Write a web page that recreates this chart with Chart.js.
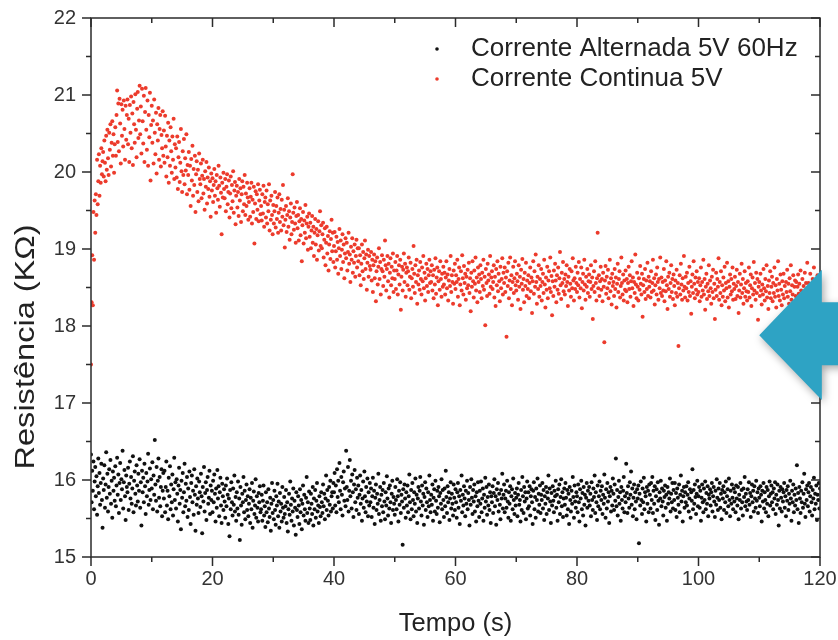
<!DOCTYPE html>
<html>
<head>
<meta charset="utf-8">
<script src="https://cdn.jsdelivr.net/npm/chart.js@4.4.1/dist/chart.umd.min.js"></script>
<style>
  html, body { margin: 0; padding: 0; background: #fff; }
  canvas { display: block; }
</style>
</head>
<body>
<canvas id="grafico" width="838" height="640"></canvas>
<script>
// Intervalo de aquisicao (s) entre amostras
const intervalo = 0.1;

// Ticks principais dos eixos
const ticksTempo = [0, 20, 40, 60, 80, 100, 120];
const ticksResist = [15, 16, 17, 18, 19, 20, 21, 22];

const legendas = ['Corrente Alternada 5V 60Hz', 'Corrente Continua 5V'];

// Resistencia (kOhm) - corrente alternada 5V 60Hz, uma linha = 2 s
const resistenciaAC = [
  16.33, 15.71, 16.12, 15.86, 16.24, 15.62, 15.98, 16.17, 15.79, 16.05, 15.55, 15.92, 16.28, 15.83, 16.09, 15.68, 15.96, 16.21, 15.74, 15.38,
  16.02, 15.87, 16.19, 15.64, 15.94, 16.36, 15.77, 16.08, 15.59, 15.91, 16.14, 15.82, 16.26, 15.69, 15.99, 15.51, 16.11, 15.86, 16.03, 15.73,
  16.18, 15.66, 15.93, 16.29, 15.81, 16.07, 15.57, 15.96, 16.22, 15.74, 16.01, 15.88, 16.38, 15.63, 15.97, 16.13, 15.79, 15.48, 16.06, 15.91,
  15.84, 16.16, 15.61, 15.95, 16.24, 15.76, 16.04, 15.69, 15.89, 16.31, 15.58, 15.99, 16.11, 15.82, 15.67, 16.19, 15.93, 15.72, 16.08, 15.86,
  16.27, 15.64, 15.97, 15.41, 16.12, 15.84, 16.03, 15.71, 16.21, 15.92, 15.56, 16.09, 15.79, 15.98, 16.34, 15.68, 15.87, 16.15, 15.74, 16.01,
  15.89, 16.23, 15.62, 16.06, 15.81, 16.52, 15.94, 15.73, 16.17, 15.59, 15.99, 16.28, 15.77, 16.04, 15.66, 15.91, 16.14, 15.53, 15.86, 16.09,
  15.76, 16.12, 15.58, 15.91, 16.24, 15.67, 15.86, 15.49, 16.03, 15.79, 16.18, 15.62, 15.94, 15.71, 16.07, 15.54, 15.88, 16.29, 15.74, 15.97,
  15.63, 16.01, 15.82, 15.46, 15.93, 16.16, 15.69, 15.87, 15.36, 15.99, 15.77, 16.09, 15.58, 15.84, 16.21, 15.66, 15.95, 15.73, 16.04, 15.52,
  15.89, 15.61, 16.11, 15.78, 15.43, 15.96, 16.06, 15.71, 15.86, 15.55, 16.14, 15.81, 15.34, 15.92, 15.68, 16.02, 15.76, 15.57, 15.98, 15.84,
  15.65, 16.08, 15.79, 15.31, 15.91, 15.72, 16.17, 15.59, 15.83, 15.97, 15.48, 15.87, 16.04, 15.69, 15.77, 16.12, 15.56, 15.93, 15.74, 15.86,
  15.58, 15.99, 15.71, 16.07, 15.82, 15.46, 15.89, 15.64, 16.13, 15.76, 15.92, 15.53, 15.84, 16.03, 15.67, 15.44, 15.95, 15.79, 15.61, 15.88,
  15.72, 15.51, 15.93, 15.66, 16.02, 15.81, 15.43, 15.76, 15.27, 15.87, 15.62, 15.97, 15.71, 15.54, 15.89, 15.68, 16.06, 15.59, 15.78, 15.47,
  15.84, 15.63, 15.98, 15.55, 15.76, 15.22, 15.91, 15.67, 15.42, 15.82, 15.71, 16.04, 15.58, 15.86, 15.49, 15.74, 15.94, 15.61, 15.79, 15.53,
  15.69, 15.88, 15.44, 15.77, 15.62, 15.96, 15.38, 15.73, 15.85, 15.56, 15.67, 16.01, 15.51, 15.79, 15.64, 15.46, 15.83, 15.71, 15.92, 15.58,
  15.62, 15.81, 15.47, 15.73, 15.93, 15.54, 15.66, 15.39, 15.84, 15.58, 15.71, 15.45, 15.88, 15.63, 15.52, 15.77, 15.34, 15.69, 15.96, 15.57,
  15.74, 15.49, 15.86, 15.61, 15.42, 15.79, 15.67, 15.95, 15.53, 15.72, 15.38, 15.83, 15.59, 15.69, 15.46, 15.91, 15.64, 15.51, 15.78, 15.56,
  15.66, 15.87, 15.44, 15.71, 15.33, 15.62, 15.82, 15.55, 15.98, 15.68, 15.47, 15.76, 15.59, 15.89, 15.41, 15.73, 15.64, 15.29, 15.84, 15.61,
  15.52, 15.79, 15.67, 15.43, 15.88, 15.58, 15.74, 15.36, 15.69, 15.93, 15.54, 15.81, 15.62, 15.47, 15.77, 16.04, 15.57, 15.71, 15.44, 15.85,
  15.63, 15.48, 15.82, 15.69, 15.56, 15.91, 15.41, 15.76, 15.62, 15.87, 15.51, 15.73, 15.96, 15.59, 15.67, 15.44, 15.79, 15.65, 15.53, 15.84,
  15.71, 15.57, 15.94, 15.66, 15.82, 15.49, 15.76, 16.06, 15.61, 15.87, 15.73, 15.54, 15.91, 15.68, 15.99, 15.59, 15.79, 15.84, 15.63, 15.96,
  15.84, 16.09, 15.67, 15.93, 15.58, 16.14, 15.78, 15.99, 15.71, 16.22, 15.86, 15.62, 16.04, 15.81, 15.54, 15.97, 16.11, 15.73, 15.89, 15.66,
  16.38, 15.91, 15.74, 16.17, 15.59, 15.86, 16.26, 15.79, 15.99, 15.63, 16.07, 15.84, 15.52, 15.94, 16.13, 15.71, 15.88, 15.61, 16.03, 15.77,
  15.93, 15.56, 15.81, 16.06, 15.69, 15.87, 15.47, 15.76, 15.98, 15.64, 16.11, 15.79, 15.58, 15.91, 15.72, 16.02, 15.53, 15.84, 15.67, 15.96,
  15.71, 15.89, 15.52, 15.79, 16.03, 15.64, 15.86, 15.43, 15.77, 15.94, 15.61, 15.82, 15.69, 16.08, 15.56, 15.74, 15.91, 15.47, 15.81, 15.66,
  15.87, 15.58, 15.96, 15.72, 15.49, 15.84, 15.67, 16.05, 15.76, 15.54, 15.89, 15.63, 15.93, 15.71, 15.44, 15.82, 15.99, 15.61, 15.78, 15.69,
  15.55, 15.91, 15.74, 15.62, 16.01, 15.79, 15.46, 15.86, 15.68, 15.97, 15.57, 15.81, 15.72, 15.16, 15.88, 15.64, 15.94, 15.76, 15.51, 15.84,
  15.67, 15.93, 15.58, 15.79, 16.07, 15.71, 15.49, 15.87, 15.62, 15.96, 15.74, 15.53, 15.84, 15.69, 16.02, 15.59, 15.81, 15.44, 15.76, 15.91,
  15.63, 15.86, 16.04, 15.72, 15.54, 15.93, 15.67, 15.82, 15.42, 15.78, 15.97, 15.61, 15.89, 15.71, 15.52, 15.84, 15.66, 16.06, 15.74, 15.58,
  15.81, 15.68, 15.94, 15.47, 15.77, 15.88, 15.59, 15.99, 15.73, 15.56, 15.86, 15.64, 15.91, 15.79, 15.45, 15.83, 15.69, 16.01, 15.62, 15.87,
  15.74, 15.52, 15.89, 15.66, 16.12, 15.78, 15.57, 15.92, 15.71, 15.84, 15.48, 15.76, 15.97, 15.63, 15.82, 15.69, 15.54, 15.94, 15.77, 15.61,
  15.88, 15.71, 15.51, 15.84, 15.96, 15.64, 15.79, 15.43, 15.87, 15.73, 16.06, 15.58, 15.81, 15.67, 15.92, 15.76, 15.53, 15.86, 15.69, 15.99,
  15.62, 15.83, 15.74, 15.41, 15.91, 15.68, 16.01, 15.77, 15.56, 15.87, 15.72, 15.94, 15.59, 15.79, 15.46, 15.84, 15.66, 15.97, 15.73, 15.52,
  15.86, 15.69, 15.98, 15.58, 15.76, 15.89, 15.47, 15.81, 15.64, 16.03, 15.72, 15.91, 15.55, 15.78, 15.67, 15.94, 15.61, 15.84, 15.44, 15.79,
  15.71, 15.92, 15.57, 15.83, 16.01, 15.66, 15.79, 15.42, 15.88, 15.74, 15.96, 15.59, 15.82, 15.68, 15.49, 15.87, 15.76, 16.08, 15.63, 15.81,
  15.94, 15.58, 15.76, 15.86, 15.64, 15.99, 15.72, 15.51, 15.84, 15.69, 15.92, 15.47, 15.79, 15.88, 15.62, 16.02, 15.74, 15.56, 15.83, 15.67,
  15.77, 15.89, 15.53, 15.81, 15.96, 15.68, 15.74, 15.46, 15.87, 15.61, 16.04, 15.79, 15.57, 15.91, 15.72, 15.84, 15.49, 15.76, 15.98, 15.63,
  15.84, 15.66, 15.92, 15.54, 15.79, 15.88, 15.71, 15.43, 15.86, 15.97, 15.62, 15.78, 15.51, 15.89, 15.74, 16.02, 15.59, 15.82, 15.68, 15.93,
  15.57, 15.81, 15.74, 15.96, 15.63, 15.87, 15.48, 15.79, 15.69, 15.91, 15.56, 15.84, 15.76, 16.06, 15.61, 15.89, 15.72, 15.44, 15.83, 15.67,
  15.92, 15.73, 15.58, 15.86, 15.79, 15.99, 15.64, 15.81, 15.47, 15.88, 15.71, 15.94, 15.56, 15.78, 16.01, 15.66, 15.84, 15.52, 15.76, 15.89,
  15.68, 15.96, 15.77, 15.54, 15.87, 15.62, 15.82, 15.43, 15.91, 15.74, 15.59, 15.86, 15.69, 16.04, 15.78, 15.51, 15.93, 15.72, 15.64, 15.84,
  15.79, 15.58, 15.94, 15.71, 15.46, 15.88, 15.76, 15.99, 15.62, 15.83, 15.54, 15.91, 15.68, 15.81, 15.41, 15.77, 15.96, 15.64, 15.86, 15.73,
  15.91, 15.67, 15.82, 15.53, 15.97, 15.74, 15.61, 15.89, 15.78, 16.06, 15.57, 15.84, 15.71, 15.48, 15.93, 15.66, 15.79, 15.98, 15.62, 15.86,
  15.74, 15.92, 15.56, 15.81, 15.69, 16.07, 15.77, 15.51, 15.88, 15.63, 15.96, 15.72, 15.84, 15.44, 15.79, 15.91, 15.59, 15.86, 15.67, 16.02,
  15.82, 15.61, 15.94, 15.73, 16.28, 15.66, 15.87, 15.54, 15.78, 15.99, 15.69, 15.84, 15.47, 15.91, 15.74, 15.63, 15.86, 16.04, 15.58, 15.79,
  15.71, 16.21, 15.83, 15.57, 15.92, 15.76, 15.64, 15.97, 15.81, 16.11, 15.68, 15.89, 15.53, 15.77, 15.94, 15.62, 15.84, 15.72, 15.49, 15.88,
  15.76, 15.93, 15.18, 15.82, 15.67, 15.98, 15.74, 15.56, 15.89, 15.71, 16.03, 15.62, 15.84, 15.79, 15.46, 15.91, 15.69, 15.86, 15.58, 15.94,
  15.81, 15.63, 15.96, 15.74, 16.04, 15.57, 15.86, 15.69, 15.92, 15.48, 15.79, 15.88, 15.61, 15.97, 15.73, 15.42, 15.84, 15.76, 15.99, 15.66,
  15.89, 15.72, 15.54, 15.86, 15.78, 15.93, 15.64, 15.81, 15.47, 15.91, 15.69, 15.84, 15.76, 16.02, 15.59, 15.82, 15.71, 15.96, 15.63, 15.87,
  15.74, 15.96, 15.61, 15.83, 15.52, 15.89, 15.77, 15.68, 15.94, 15.58, 15.81, 16.06, 15.72, 15.86, 15.46, 15.79, 15.91, 15.64, 15.84, 15.71,
  15.92, 15.67, 15.81, 15.97, 15.59, 15.76, 15.88, 15.51, 15.84, 15.73, 16.14, 15.62, 15.87, 15.69, 15.94, 15.78, 15.56, 15.82, 15.99, 15.66,
  15.79, 15.91, 15.64, 15.86, 15.47, 15.77, 15.94, 15.71, 15.58, 15.89, 15.74, 15.98, 15.62, 15.83, 15.69, 15.92, 15.53, 15.81, 15.76, 15.88,
  15.67, 15.84, 15.96, 15.59, 15.79, 15.91, 15.72, 15.52, 15.86, 15.68, 16.01, 15.77, 15.61, 15.89, 15.74, 15.96, 15.64, 15.82, 15.49, 15.87,
  15.76, 15.92, 15.61, 15.84, 15.71, 15.98, 15.57, 15.79, 15.88, 15.66, 16.02, 15.74, 15.53, 15.86, 15.69, 15.94, 15.77, 15.62, 15.89, 15.72,
  15.84, 15.58, 15.93, 15.76, 15.67, 15.91, 15.49, 15.81, 15.74, 15.96, 15.63, 15.87, 15.71, 15.54, 15.89, 15.78, 16.04, 15.66, 15.82, 15.72,
  15.61, 15.88, 15.74, 15.97, 15.68, 15.83, 15.52, 15.79, 15.94, 15.71, 15.86, 15.59, 15.92, 15.76, 15.64, 15.99, 15.73, 15.84, 15.57, 15.89,
  15.77, 15.66, 15.92, 15.81, 15.46, 15.86, 15.72, 15.96, 15.63, 15.84, 15.74, 15.58, 15.91, 15.69, 15.87, 15.53, 15.79, 15.98, 15.67, 15.82,
  15.93, 15.71, 15.84, 15.62, 15.89, 15.76, 15.97, 15.56, 15.81, 15.68, 15.94, 15.74, 15.41, 15.86, 15.63, 15.91, 15.77, 15.59, 15.88, 15.72,
  15.84, 15.96, 15.64, 15.79, 15.53, 15.87, 15.73, 15.92, 15.61, 15.82, 15.69, 15.99, 15.76, 15.47, 15.86, 15.71, 15.94, 15.58, 15.81, 15.67,
  15.89, 15.74, 16.19, 15.62, 15.83, 15.44, 15.91, 15.76, 15.57, 15.86, 15.71, 15.97, 15.64, 15.82, 16.08, 15.69, 15.52, 15.88, 15.74, 15.93,
  15.66, 15.84, 15.96, 15.59, 15.79, 15.91, 15.71, 15.54, 15.87, 15.76, 16.03, 15.62, 15.82, 15.69, 15.93, 15.48, 15.81, 15.74, 15.96, 15.63,
  15.89
];

// Resistencia (kOhm) - corrente continua 5V, uma linha = 2 s
const resistenciaDC = [
  17.50, 18.31, 18.92, 18.27, 19.48, 18.86, 19.63, 19.21, 19.71, 19.44, 20.16, 19.58, 19.88, 20.23, 19.69, 20.08, 19.86, 20.31, 19.97, 20.14,
  20.26, 19.94, 20.41, 20.12, 19.88, 20.47, 20.03, 20.55, 20.18, 19.96, 20.51, 20.29, 20.62, 20.07, 20.38, 20.66, 20.21, 20.49, 19.99, 20.36,
  20.58, 20.21, 20.74, 21.06, 20.39, 20.89, 20.27, 20.95, 20.63, 20.11, 20.88, 20.47, 20.81, 20.33, 20.93, 20.56, 20.16, 20.86, 20.42, 20.74,
  20.94, 20.36, 20.69, 20.13, 20.87, 20.51, 20.98, 20.31, 20.76, 20.09, 20.91, 20.62, 20.38, 21.01, 20.55, 20.19, 20.82, 21.04, 20.44, 20.67,
  21.12, 20.49, 20.85, 20.24, 21.08, 20.66, 20.37, 20.99, 20.13, 20.78, 21.09, 20.55, 20.29, 20.93, 20.08, 20.74, 20.45, 21.03, 19.89, 20.61,
  20.86, 20.38, 20.67, 20.11, 20.94, 20.51, 20.23, 20.77, 19.98, 20.62, 20.41, 20.83, 20.16, 20.56, 20.74, 20.07, 20.48, 20.31, 20.79, 20.21,
  20.54, 20.12, 20.73, 20.33, 19.94, 20.47, 20.19, 20.64, 19.86, 20.41, 20.08, 20.58, 20.27, 19.99, 20.46, 20.16, 20.69, 19.91, 20.36, 20.06,
  20.31, 19.93, 20.46, 19.78, 20.19, 20.39, 19.87, 20.12, 20.56, 20.01, 19.74, 20.27, 19.96, 20.43, 19.84, 20.18, 20.02, 20.49, 19.71, 20.09,
  19.96, 20.26, 19.77, 20.08, 19.56, 20.17, 19.89, 20.34, 19.69, 20.04, 19.83, 20.21, 19.48, 19.97, 20.14, 19.74, 20.03, 19.62, 20.24, 19.91,
  19.84, 20.11, 19.66, 19.95, 20.16, 19.72, 19.91, 19.51, 20.01, 19.81, 20.13, 19.59, 19.93, 19.78, 20.06, 19.68, 19.88, 19.42, 19.98, 19.76,
  19.92, 19.61, 19.83, 20.04, 19.69, 19.88, 19.47, 19.96, 19.79, 19.64, 20.08, 19.82, 19.55, 19.93, 19.73, 19.19, 19.86, 19.67, 19.99, 19.78,
  19.66, 19.91, 19.49, 19.81, 19.97, 19.58, 19.74, 19.89, 19.41, 19.72, 19.94, 19.53, 19.83, 19.62, 20.01, 19.47, 19.76, 19.87, 19.32, 19.69,
  19.82, 19.54, 19.74, 19.43, 19.91, 19.63, 19.79, 19.35, 19.71, 19.88, 19.49, 19.81, 19.58, 19.96, 19.44, 19.72, 19.56, 19.86, 19.67, 19.38,
  19.61, 19.79, 19.42, 19.68, 19.86, 19.33, 19.64, 19.48, 19.81, 19.07, 19.59, 19.75, 19.39, 19.71, 19.51, 19.84, 19.36, 19.63, 19.77, 19.45,
  19.56, 19.37, 19.71, 19.46, 19.82, 19.29, 19.61, 19.67, 19.41, 19.76, 19.33, 19.58, 19.49, 19.84, 19.24, 19.63, 19.38, 19.69, 19.44, 19.19,
  19.57, 19.33, 19.49, 19.74, 19.28, 19.56, 19.39, 19.67, 19.21, 19.47, 19.71, 19.35, 19.52, 19.24, 19.64, 19.42, 19.83, 19.31, 19.51, 19.02,
  19.38, 19.56, 19.22, 19.44, 19.66, 19.29, 19.49, 19.12, 19.41, 19.59, 19.19, 19.35, 19.97, 19.47, 19.25, 19.54, 19.33, 19.08, 19.43, 19.61,
  19.27, 19.44, 19.11, 19.36, 19.53, 19.18, 19.39, 18.84, 19.31, 19.48, 19.07, 19.37, 19.21, 19.57, 19.14, 19.33, 19.42, 18.99, 19.29, 19.46,
  19.16, 19.34, 19.01, 19.24, 19.43, 19.08, 19.29, 18.91, 19.21, 19.39, 19.06, 19.26, 18.86, 19.18, 19.36, 18.98, 19.23, 19.49, 19.04, 19.31,
  19.01, 19.19, 19.34, 18.89, 19.12, 19.27, 18.79, 19.08, 19.29, 18.94, 19.17, 18.72, 19.06, 19.23, 18.87, 19.13, 19.38, 18.97, 19.21, 18.83,
  19.04, 19.22, 18.76, 18.97, 19.16, 18.86, 19.09, 18.68, 19.01, 19.26, 18.91, 19.11, 18.74, 18.99, 19.19, 18.83, 19.06, 18.62, 18.94, 19.14,
  18.88, 19.08, 18.72, 18.96, 19.21, 18.81, 18.93, 18.57, 19.03, 18.86, 19.14, 18.69, 18.97, 18.82, 19.06, 18.64, 18.91, 19.12, 18.76, 19.01,
  18.84, 19.01, 18.66, 18.92, 18.53, 18.81, 19.06, 18.71, 18.96, 18.61, 18.88, 19.11, 18.74, 18.93, 18.47, 18.82, 18.99, 18.64, 18.91, 18.78,
  18.73, 18.96, 18.59, 18.86, 18.44, 18.79, 18.93, 18.62, 18.84, 18.32, 18.71, 18.89, 18.54, 18.77, 19.01, 18.61, 18.83, 18.41, 18.74, 18.92,
  18.71, 18.52, 18.86, 18.64, 19.11, 18.79, 18.46, 18.74, 18.91, 18.58, 18.81, 18.37, 18.69, 18.88, 18.53, 18.77, 18.62, 18.94, 18.44, 18.72,
  18.61, 18.83, 18.48, 18.72, 18.91, 18.41, 18.67, 18.79, 18.54, 18.86, 18.21, 18.64, 18.77, 18.46, 18.73, 18.94, 18.57, 18.81, 18.38, 18.69,
  18.76, 18.53, 18.71, 18.89, 18.47, 18.64, 18.82, 18.36, 18.62, 18.74, 18.51, 19.04, 18.68, 18.43, 18.79, 18.57, 18.86, 18.29, 18.66, 18.54,
  18.72, 18.47, 18.83, 18.61, 18.41, 18.76, 18.58, 18.91, 18.49, 18.69, 18.33, 18.62, 18.81, 18.52, 18.74, 18.44, 18.66, 18.86, 18.56, 18.71,
  18.57, 18.79, 18.46, 18.66, 18.36, 18.73, 18.54, 18.88, 18.42, 18.63, 18.76, 18.27, 18.58, 18.71, 18.47, 18.84, 18.61, 18.38, 18.68, 18.51,
  18.77, 18.54, 18.69, 18.41, 18.63, 18.84, 18.49, 18.67, 18.33, 18.59, 18.74, 18.52, 18.91, 18.44, 18.66, 18.57, 18.29, 18.72, 18.55, 18.81,
  18.48, 18.66, 18.57, 18.86, 18.38, 18.61, 18.76, 18.27, 18.54, 18.71, 18.46, 18.92, 18.62, 18.41, 18.78, 18.56, 18.68, 18.34, 18.64, 18.49,
  18.73, 18.53, 18.82, 18.43, 18.62, 18.19, 18.69, 18.51, 18.84, 18.58, 18.37, 18.72, 18.55, 18.89, 18.46, 18.63, 18.31, 18.76, 18.57, 18.67,
  18.44, 18.79, 18.61, 18.36, 18.69, 18.52, 18.86, 18.47, 18.64, 18.01, 18.74, 18.56, 18.39, 18.81, 18.59, 18.67, 18.42, 18.91, 18.51, 18.63,
  18.71, 18.48, 18.57, 18.79, 18.37, 18.64, 18.26, 18.74, 18.53, 18.84, 18.45, 18.68, 18.58, 18.32, 18.77, 18.49, 18.61, 18.88, 18.41, 18.69,
  18.56, 18.76, 18.44, 18.63, 17.86, 18.71, 18.52, 18.82, 18.36, 18.59, 18.89, 18.48, 18.66, 18.27, 18.57, 18.77, 18.43, 18.62, 18.84, 18.53,
  18.46, 18.68, 18.58, 18.34, 18.79, 18.51, 18.64, 18.22, 18.73, 18.55, 18.87, 18.47, 18.61, 18.31, 18.69, 18.52, 18.82, 18.39, 18.59, 18.48,
  18.66, 18.36, 18.56, 18.76, 18.45, 18.63, 18.17, 18.58, 18.84, 18.42, 18.71, 18.51, 18.93, 18.57, 18.29, 18.64, 18.48, 18.79, 18.38, 18.61,
  18.52, 18.74, 18.33, 18.57, 18.68, 18.43, 18.86, 18.54, 18.24, 18.63, 18.47, 18.77, 18.36, 18.59, 18.71, 18.49, 18.89, 18.44, 18.65, 18.14,
  18.58, 18.39, 18.72, 18.51, 18.81, 18.59, 18.31, 18.66, 18.47, 18.76, 18.42, 18.62, 18.96, 18.53, 18.35, 18.69, 18.56, 18.83, 18.45, 18.61,
  18.41, 18.67, 18.52, 18.79, 18.57, 18.26, 18.64, 18.46, 18.74, 18.55, 18.38, 18.71, 18.49, 18.88, 18.59, 18.33, 18.62, 18.48, 18.77, 18.56,
  18.44, 18.69, 18.53, 18.83, 18.37, 18.61, 18.49, 18.76, 18.23, 18.57, 18.68, 18.46, 18.86, 18.54, 18.34, 18.64, 18.51, 18.74, 18.43, 18.58,
  18.67, 18.38, 18.57, 18.79, 18.48, 18.63, 18.09, 18.52, 18.71, 18.44, 18.84, 18.56, 18.33, 18.62, 19.21, 18.49, 18.66, 18.39, 18.58, 18.77,
  18.47, 18.61, 18.32, 18.69, 18.51, 17.79, 18.59, 18.78, 18.42, 18.64, 18.49, 18.73, 18.36, 18.56, 18.86, 18.45, 18.62, 18.28, 18.68, 18.52,
  18.57, 18.39, 18.74, 18.48, 18.63, 18.24, 18.55, 18.81, 18.44, 18.61, 18.71, 18.37, 18.52, 18.89, 18.56, 18.41, 18.67, 18.33, 18.59, 18.47,
  18.72, 18.45, 18.61, 18.31, 18.56, 18.77, 18.48, 18.66, 18.38, 18.58, 18.84, 18.49, 18.63, 18.26, 18.57, 18.43, 18.93, 18.54, 18.36, 18.69,
  18.51, 18.33, 18.62, 18.47, 18.78, 18.55, 18.41, 18.68, 18.12, 18.53, 18.61, 18.44, 18.74, 18.35, 18.59, 18.48, 18.82, 18.39, 18.64, 18.51,
  18.58, 18.37, 18.71, 18.44, 18.56, 18.86, 18.46, 18.62, 18.28, 18.53, 18.67, 18.41, 18.76, 18.57, 18.34, 18.61, 18.49, 18.89, 18.43, 18.63,
  18.39, 18.57, 18.46, 18.74, 18.32, 18.59, 18.45, 18.84, 18.53, 18.22, 18.64, 18.48, 18.69, 18.38, 18.56, 18.79, 18.44, 18.61, 18.35, 18.67,
  18.52, 18.27, 18.59, 18.43, 18.73, 18.38, 18.56, 17.74, 18.49, 18.66, 18.41, 18.81, 18.54, 18.34, 18.62, 18.46, 18.91, 18.51, 18.37, 18.64,
  18.49, 18.69, 18.33, 18.56, 18.44, 18.77, 18.39, 18.58, 18.16, 18.51, 18.67, 18.43, 18.84, 18.55, 18.36, 18.63, 18.47, 18.71, 18.41, 18.57,
  18.44, 18.62, 18.32, 18.53, 18.76, 18.38, 18.57, 18.46, 18.86, 18.41, 18.61, 18.21, 18.51, 18.68, 18.35, 18.55, 18.45, 18.79, 18.39, 18.59,
  18.49, 18.29, 18.64, 18.44, 18.73, 18.36, 18.55, 18.09, 18.47, 18.69, 18.39, 18.61, 18.51, 18.88, 18.34, 18.57, 18.43, 18.71, 18.27, 18.53,
  18.38, 18.63, 18.46, 18.77, 18.32, 18.56, 18.49, 18.82, 18.37, 18.58, 18.24, 18.51, 18.67, 18.41, 18.61, 18.45, 18.76, 18.34, 18.55, 18.48,
  18.64, 18.35, 18.52, 18.73, 18.39, 18.57, 18.17, 18.46, 18.68, 18.37, 18.54, 18.81, 18.43, 18.61, 18.29, 18.49, 18.71, 18.38, 18.56, 18.45,
  18.33, 18.58, 18.44, 18.76, 18.37, 18.53, 18.67, 18.26, 18.49, 18.63, 18.41, 18.83, 18.46, 18.56, 18.34, 18.69, 18.43, 18.61, 18.08, 18.51,
  18.57, 18.39, 18.68, 18.46, 18.28, 18.54, 18.41, 18.74, 18.49, 18.33, 18.61, 18.45, 18.79, 18.37, 18.52, 18.22, 18.59, 18.43, 18.71, 18.36,
  18.51, 18.64, 18.32, 18.56, 18.43, 18.76, 18.38, 18.53, 18.24, 18.61, 18.46, 18.84, 18.39, 18.55, 18.33, 18.67, 18.47, 18.27, 18.58, 18.41,
  18.68, 18.36, 18.52, 18.16, 18.57, 18.44, 18.73, 18.38, 18.55, 18.29, 18.62, 18.45, 18.79, 18.34, 18.53, 18.41, 18.66, 18.26, 18.51, 18.59,
  18.39, 18.57, 18.23, 18.51, 18.67, 18.42, 18.55, 18.32, 18.72, 18.46, 18.35, 18.61, 18.18, 18.52, 18.41, 18.69, 18.29, 18.56, 18.44, 18.82,
  18.41, 18.56, 18.28, 18.49, 18.68, 18.37, 18.53, 18.21, 18.61, 18.43, 18.76, 18.33, 18.51, 18.59, 18.27, 18.47, 18.66, 18.38, 18.54, 18.45,
  18.44
];

const corAC = '#111111';
const corDC = '#ec3b2c';
const fonte = "'Liberation Sans', Arial, sans-serif";

function pontos(serie) {
  return serie.map((v, i) => ({ x: i * intervalo, y: v }));
}

// adiciona ticks menores entre os principais
function comMenores(principais) {
  const out = [];
  for (let i = 0; i < principais.length; i++) {
    out.push({ value: principais[i], major: true });
    if (i < principais.length - 1) {
      out.push({ value: (principais[i] + principais[i + 1]) / 2, major: false });
    }
  }
  return out;
}

// moldura com ticks para fora (esq/baixo) e para dentro (dir/topo)
const molduraPlugin = {
  id: 'moldura',
  afterDatasetsDraw(chart) {
    const { ctx, chartArea: a, scales } = chart;
    ctx.save();
    ctx.strokeStyle = '#2b2b2b';
    ctx.lineWidth = 1.5;
    ctx.strokeRect(a.left, a.top, a.right - a.left, a.bottom - a.top);
    ctx.beginPath();
    scales.y.ticks.forEach(t => {
      const py = scales.y.getPixelForValue(t.value);
      const len = t.major ? 9 : 5;
      ctx.moveTo(a.left - len, py); ctx.lineTo(a.left, py);
      ctx.moveTo(a.right - len, py); ctx.lineTo(a.right, py);
    });
    scales.x.ticks.forEach(t => {
      const px = scales.x.getPixelForValue(t.value);
      const len = t.major ? 9 : 5;
      ctx.moveTo(px, a.bottom); ctx.lineTo(px, a.bottom + len);
      ctx.moveTo(px, a.top); ctx.lineTo(px, a.top + len);
    });
    ctx.stroke();
    ctx.restore();
  },
  afterDraw(chart) {
    const { ctx, scales } = chart;
    // legenda
    ctx.save();
    ctx.font = '26px ' + fonte;
    ctx.textBaseline = 'middle';
    chart.data.datasets.forEach((ds, i) => {
      const yy = 49 + i * 30;
      ctx.fillStyle = ds.backgroundColor;
      ctx.beginPath();
      ctx.arc(437, yy, 1.8, 0, Math.PI * 2);
      ctx.fill();
      ctx.fillStyle = '#222';
      ctx.fillText(ds.label, 471, yy);
    });
    ctx.restore();

    // titulo do eixo y (alongado e deslocado para baixo como no original)
    ctx.save();
    ctx.font = '27px ' + fonte;
    ctx.fillStyle = '#222';
    ctx.textAlign = 'center';
    ctx.textBaseline = 'middle';
    const titulo = 'Resistência (KΩ)';
    const k = 245 / ctx.measureText(titulo).width;
    ctx.translate(27, 347);
    ctx.rotate(-Math.PI / 2);
    ctx.scale(k, 1);
    ctx.fillText(titulo, 0, 0);
    ctx.restore();

    // seta azul sobre o grafico
    const X = v => scales.x.getPixelForValue(v);
    const Y = v => scales.y.getPixelForValue(v);
    ctx.save();
    ctx.shadowColor = 'rgba(0,0,0,0.35)';
    ctx.shadowBlur = 8;
    ctx.shadowOffsetX = 2;
    ctx.shadowOffsetY = 3;
    ctx.fillStyle = '#2ea3c4';
    ctx.beginPath();
    ctx.moveTo(X(110.0), Y(17.88));
    ctx.lineTo(X(120.3), Y(18.73));
    ctx.lineTo(X(120.3), Y(18.31));
    ctx.lineTo(X(125), Y(18.31));
    ctx.lineTo(X(125), Y(17.49));
    ctx.lineTo(X(120.3), Y(17.49));
    ctx.lineTo(X(120.3), Y(17.04));
    ctx.closePath();
    ctx.fill();
    ctx.restore();
  }
};

new Chart(document.getElementById('grafico'), {
  type: 'scatter',
  data: {
    datasets: [{
      label: legendas[0],
      data: pontos(resistenciaAC),
      backgroundColor: corAC,
      pointRadius: 2,
      pointBorderWidth: 0
    }, {
      label: legendas[1],
      data: pontos(resistenciaDC),
      backgroundColor: corDC,
      pointRadius: 2,
      pointBorderWidth: 0
    }]
  },
  options: {
    responsive: false,
    animation: false,
    layout: { padding: { top: 18, right: 18, left: 0, bottom: 0 } },
    plugins: {
      legend: { display: false },
      tooltip: { enabled: false }
    },
    scales: {
      x: {
        type: 'linear',
        min: 0,
        max: 120,
        afterFit: s => { s.height = 83; s.paddingLeft = 0; s.paddingRight = 0; },
        afterBuildTicks: s => { s.ticks = comMenores(ticksTempo); },
        grid: { display: false, drawTicks: false },
        border: { display: false },
        ticks: {
          autoSkip: false,
          maxRotation: 0,
          padding: 10,
          color: '#333',
          font: { family: fonte, size: 20 },
          callback: (v, i, t) => t[i].major ? String(v) : ''
        },
        title: {
          display: true,
          text: 'Tempo (s)',
          color: '#222',
          font: { family: fonte, size: 25.5 },
          padding: { top: 0, bottom: 1 }
        }
      },
      y: {
        min: 15,
        max: 22,
        afterFit: s => { s.width = 91; s.paddingTop = 0; s.paddingBottom = 0; },
        afterBuildTicks: s => { s.ticks = comMenores(ticksResist); },
        grid: { display: false, drawTicks: false },
        border: { display: false },
        ticks: {
          autoSkip: false,
          padding: 15,
          color: '#333',
          font: { family: fonte, size: 20 },
          callback: (v, i, t) => t[i].major ? String(v) : ''
        },
        title: { display: false }
      }
    }
  },
  plugins: [molduraPlugin]
});
</script>
</body>
</html>
